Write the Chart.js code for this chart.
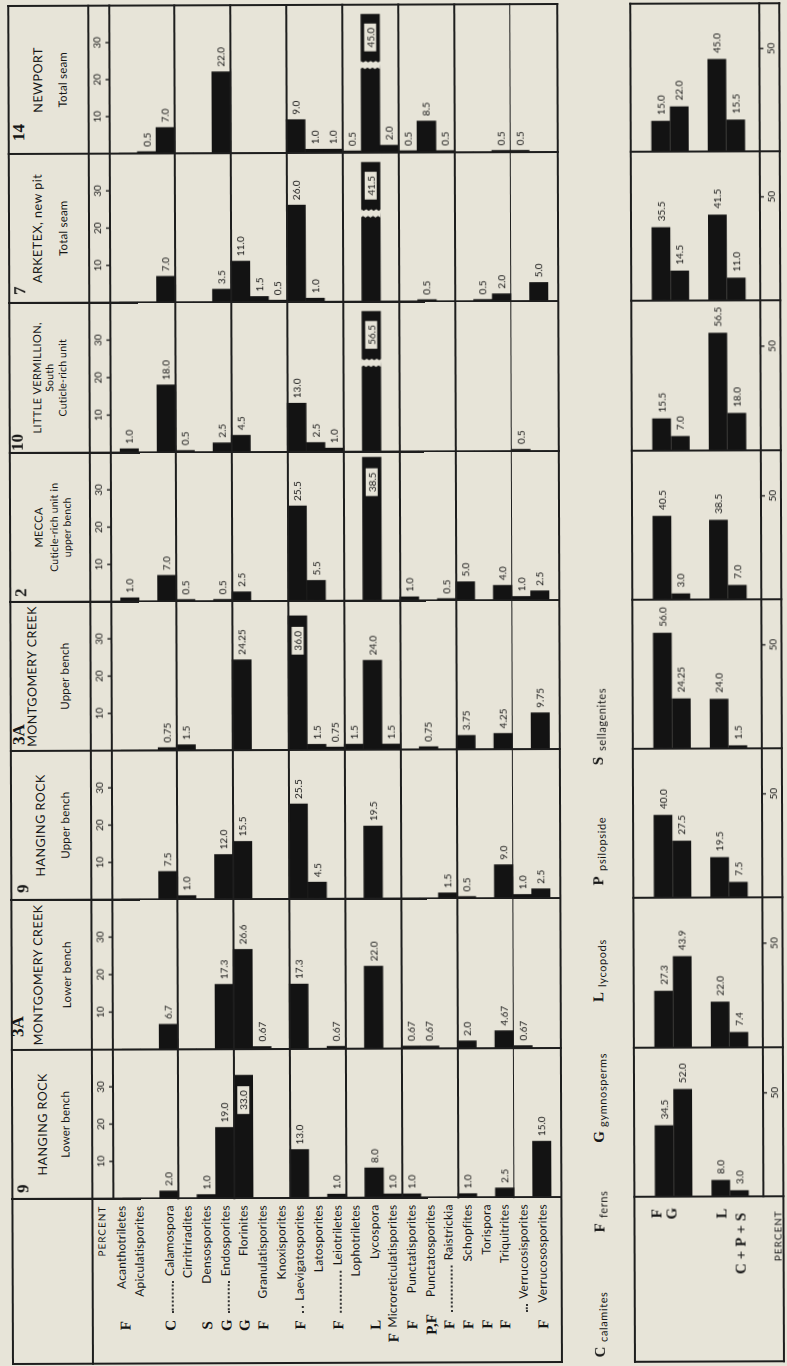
<!DOCTYPE html>
<html>
<head>
<meta charset="utf-8">
<title>Spore assemblages by seam</title>
<script src="https://cdn.jsdelivr.net/npm/chart.js@4.4.1/dist/chart.umd.min.js"></script>
<style>
  html, body { margin: 0; padding: 0; }
  body { width: 787px; height: 1366px; overflow: hidden; background: #e7e4d8; }
  #sheet { position: absolute; left: 0; top: 0; width: 1366px; height: 787px;
           transform-origin: 0 0; transform: translateY(1366px) rotate(-90.2deg);
           font-family: Lato, "Open Sans", sans-serif; color: #161616; }
  #sheet canvas { position: absolute; }
  .ln { position: absolute; background: #1e1e1e; }
  .tx { position: absolute; white-space: nowrap; line-height: 1; }
  .num { font-family: "Liberation Serif", serif; font-weight: bold; font-size: 17px; }
  .site { font-size: 12.5px; letter-spacing: 0.5px; }
  .note { font-size: 11.5px; letter-spacing: 0.2px; }
  .small .site, .site.small { font-size: 11px; letter-spacing: 0.4px; }
  .note.small { font-size: 10.5px; }
  .genus { font-size: 12px; letter-spacing: 0.2px; }
  .code { font-family: "Liberation Serif", serif; font-weight: bold; font-size: 15px; }
  .caps { font-size: 10px; letter-spacing: 1px; }
  .word { font-size: 11px; letter-spacing: 0.6px; }
  .lead { flex: 1; border-bottom: 2px dotted #333; margin-right: 5px; }
</style>
</head>
<body>
<div id="sheet"></div>
<script>
// genus rows, top to bottom
const genera = ["Acanthotriletes", "Apiculatisporites", "Calamospora", "Cirritriradites",
  "Densosporites", "Endosporites", "Florinites", "Granulatisporites", "Knoxisporites",
  "Laevigatosporites", "Latosporites", "Leiotriletes", "Lophotriletes", "Lycospora",
  "Microreticulatisporites", "Punctatisporites", "Punctatosporites", "Raistrickia",
  "Schopfites", "Torispora", "Triquitrites", "Verrucosisporites", "Verrucososporites"];
const groupCodes = ["F", "", "C", "", "S", "G", "G", "F", "", "F", "", "F", "", "L",
  "F", "F", "P,F", "F", "F", "F", "F", "", "F"];
const leaderRows = [2, 5, 9, 11, 17, 21];
const groupEnds = [2, 5, 8, 11, 14, 17, 20];

const siteNumbers = ["9", "3A", "9", "3A", "2", "10", "7", "14"];
const siteNames = ["HANGING ROCK", "MONTGOMERY CREEK", "HANGING ROCK", "MONTGOMERY CREEK",
  "MECCA", "LITTLE VERMILLION,", "ARKETEX, new pit", "NEWPORT"];
const siteNotes = [["Lower bench"], ["Lower bench"], ["Upper bench"], ["Upper bench"],
  ["Cuticle-rich unit in", "upper bench"], ["South", "Cuticle-rich unit"],
  ["Total seam"], ["Total seam"]];

// percent of each genus, one list per site (same order as genera)
const hangingRockLower = [0, 0, 2.0, 0, 1.0, 19.0, 33.0, 0, 0, 13.0, 0, 1.0, 0, 8.0, 1.0, 1.0, 0, 0, 1.0, 0, 2.5, 0, 15.0];
const montgomeryLower  = [0, 0, 6.7, 0, 0, 17.3, 26.6, 0.67, 0, 17.3, 0, 0.67, 0, 22.0, 0, 0.67, 0.67, 0, 2.0, 0, 4.67, 0.67, 0];
const hangingRockUpper = [0, 0, 7.5, 1.0, 0, 12.0, 15.5, 0, 0, 25.5, 4.5, 0, 0, 19.5, 0, 0, 0, 1.5, 0.5, 0, 9.0, 1.0, 2.5];
const montgomeryUpper  = [0, 0, 0.75, 1.5, 0, 0, 24.25, 0, 0, 36.0, 1.5, 0.75, 1.5, 24.0, 1.5, 0, 0.75, 0, 3.75, 0, 4.25, 0, 9.75];
const mecca            = [1.0, 0, 7.0, 0.5, 0, 0.5, 2.5, 0, 0, 25.5, 5.5, 0, 0, 38.5, 0, 1.0, 0, 0.5, 5.0, 0, 4.0, 1.0, 2.5];
const littleVermillion = [1.0, 0, 18.0, 0.5, 0, 2.5, 4.5, 0, 0, 13.0, 2.5, 1.0, 0, 56.5, 0, 0, 0, 0, 0, 0, 0, 0.5, 0];
const arketex          = [0, 0, 7.0, 0, 0, 3.5, 11.0, 1.5, 0.5, 26.0, 1.0, 0, 0, 41.5, 0, 0, 0.5, 0, 0, 0.5, 2.0, 0, 5.0];
const newport          = [0, 0.5, 7.0, 0, 0, 22.0, 0, 0, 0, 9.0, 1.0, 1.0, 0.5, 45.0, 2.0, 0.5, 8.5, 0.5, 0, 0, 0.5, 0.5, 0];

// plant group totals per site
const summaryF   = [34.5, 27.3, 40.0, 56.0, 40.5, 15.5, 35.5, 15.0];
const summaryG   = [52.0, 43.9, 27.5, 24.25, 3.0, 7.0, 14.5, 22.0];
const summaryL   = [8.0, 22.0, 19.5, 24.0, 38.5, 56.5, 41.5, 45.0];
const summaryCPS = [3.0, 7.4, 7.5, 1.5, 7.0, 18.0, 11.0, 15.5];

const mainTicks = [10, 20, 30];
const mainTickLabels = ["10", "20", "30"];
const summaryTicks = [50];
const summaryTickLabels = ["50"];

const mainSeries = [hangingRockLower, montgomeryLower, hangingRockUpper, montgomeryUpper,
  mecca, littleVermillion, arketex, newport];

const INK = "#131313", PAPER = "#e7e4d8", LINE = "#1e1e1e";
const STRIP_X = [167, 316, 466, 615, 764, 913, 1063, 1212, 1360];
const sheet = document.getElementById("sheet");

function fmt(v) { return Number.isInteger(v) ? v.toFixed(1) : String(v); }

// ticks, value labels, broken bars
const stripPlugin = {
  id: "strip",
  afterDatasetsDraw(chart, args, o) {
    const ctx = chart.ctx, xs = chart.scales.x, area = chart.chartArea;
    ctx.save();
    ctx.strokeStyle = LINE;
    ctx.lineWidth = 1.4;
    ctx.fillStyle = INK;
    ctx.font = "10px Lato";
    ctx.textAlign = "center";
    ctx.textBaseline = "middle";
    o.ticks.forEach((t, k) => {
      const px = xs.getPixelForValue(t);
      ctx.beginPath();
      ctx.moveTo(px, o.tickFrom);
      ctx.lineTo(px, o.tickTo);
      ctx.stroke();
      ctx.fillText(o.tickLabels[k], px, o.labelAt);
    });

    ctx.textAlign = "left";
    chart.data.datasets.forEach((ds, d) => {
      chart.getDatasetMeta(d).data.forEach((bar, i) => {
        const v = ds.data[i];
        if (!v) return;
        const txt = fmt(v);
        const w = ctx.measureText(txt).width;
        const h = bar.height;
        if (v > xs.max) {
          const g0 = xs.getPixelForValue(o.breakFrom);
          const g1 = xs.getPixelForValue(o.breakTo);
          const end = xs.getPixelForValue(o.brokenEnd);
          const top = bar.y - h / 2 - 1, bot = bar.y + h / 2 + 1;
          ctx.fillStyle = PAPER;
          ctx.fillRect(end, top, area.right - end + 2, bot - top);
          ctx.beginPath();
          ctx.moveTo(g0, top);
          let k = 0;
          for (let yy = top; yy <= bot; yy += 2.5, k++) ctx.lineTo(g0 + (k % 2 ? 1.5 : 0), yy);
          ctx.lineTo(g1, bot);
          k = 0;
          for (let yy = bot; yy >= top; yy -= 2.5, k++) ctx.lineTo(g1 - (k % 2 ? 1.5 : 0), yy);
          ctx.closePath();
          ctx.fill();
          const cx = (g1 + end) / 2;
          ctx.fillRect(cx - w / 2 - 4, bar.y - 6, w + 8, 12);
          ctx.fillStyle = INK;
          ctx.fillText(txt, cx - w / 2, bar.y + 0.5);
        } else if (v > o.boxFrom) {
          const right = bar.x - 11;
          ctx.fillStyle = PAPER;
          ctx.fillRect(right - w - 8, bar.y - 6, w + 8, 12);
          ctx.fillStyle = INK;
          ctx.fillText(txt, right - w - 4, bar.y + 0.5);
        } else {
          ctx.fillStyle = INK;
          ctx.fillText(txt, bar.x + o.gap, bar.y + 0.5);
        }
      });
    });
    ctx.restore();
  }
};

function makeCanvas(left, top, w, h) {
  const c = document.createElement("canvas");
  c.width = w; c.height = h;
  c.style.left = left + "px"; c.style.top = top + "px";
  c.style.width = w + "px"; c.style.height = h + "px";
  sheet.appendChild(c);
  return c;
}

function baseOptions(max, pad, stripOpts) {
  return {
    indexAxis: "y",
    responsive: false,
    animation: false,
    devicePixelRatio: 1,
    layout: { padding: pad },
    scales: {
      x: { display: false, min: 0, max: max },
      y: { display: false }
    },
    plugins: { legend: { display: false }, tooltip: { enabled: false }, strip: stripOpts }
  };
}

const MAIN_TOP = 93, MAIN_H = 469;
const SUM_TOP = 635, SUM_H = 149;
const charts = [];

mainSeries.forEach((vals, s) => {
  const w = STRIP_X[s + 1] - STRIP_X[s];
  const c = makeCanvas(STRIP_X[s], MAIN_TOP, w, MAIN_H);
  charts.push(new Chart(c, {
    type: "bar",
    data: {
      labels: genera,
      datasets: [{ data: vals, backgroundColor: INK, barPercentage: 1, categoryPercentage: 1 }]
    },
    options: baseOptions(40, { top: 30, bottom: 10, left: 0, right: 0 }, {
      ticks: mainTicks, tickLabels: mainTickLabels, tickFrom: 17, tickTo: 21, labelAt: 9,
      boxFrom: 30, gap: 5, breakFrom: 22.6, breakTo: 24.8, brokenEnd: 37.5
    }),
    plugins: [stripPlugin]
  }));

  const c2 = makeCanvas(STRIP_X[s], SUM_TOP, w, SUM_H);
  new Chart(c2, {
    type: "bar",
    data: {
      labels: ["F / G", "L / C+P+S"],
      datasets: [
        { data: [summaryF[s], summaryL[s]], backgroundColor: INK, barPercentage: 1, categoryPercentage: 0.66 },
        { data: [summaryG[s], summaryCPS[s]], backgroundColor: INK, barPercentage: 1, categoryPercentage: 0.66 }
      ]
    },
    options: baseOptions(72, { top: 11, bottom: 25, left: 0, right: 0 }, {
      ticks: summaryTicks, tickLabels: summaryTickLabels, tickFrom: 129, tickTo: 133, labelAt: 141,
      boxFrom: Infinity, gap: 6
    }),
    plugins: [stripPlugin]
  });
});

// table rules
function hline(x0, x1, y, t) {
  t = t || 2;
  const d = document.createElement("div");
  d.className = "ln";
  d.style.left = x0 - 1 + "px"; d.style.top = y - t / 2 + "px";
  d.style.width = x1 - x0 + 2 + "px"; d.style.height = t + "px";
  sheet.appendChild(d);
}
function vline(x, y0, y1, t) {
  t = t || 2;
  const d = document.createElement("div");
  d.className = "ln";
  d.style.left = x - t / 2 + "px"; d.style.top = y0 - 1 + "px";
  d.style.width = t + "px"; d.style.height = y1 - y0 + 2 + "px";
  sheet.appendChild(d);
}

const ys = charts[0].scales.y;
const rowY = i => MAIN_TOP + ys.getPixelForValue(i);

hline(2, 1360, 13);
hline(2, 1360, 93);
hline(167, 1360, 114);
groupEnds.forEach(i => hline(167, 1360, (rowY(i) + rowY(i + 1)) / 2, 1.6));
hline(2, 1360, 562);
vline(2, 13, 562);
STRIP_X.forEach(x => vline(x, 13, 562));

hline(2, 1360, 635);
hline(167, 1360, 764);
hline(2, 1360, 784);
vline(2, 635, 784);
STRIP_X.forEach(x => vline(x, 635, 784));

// text
function put(text, x, y, cls, align) {
  const el = document.createElement("div");
  el.className = "tx " + cls;
  el.textContent = text;
  el.style.left = x + "px";
  el.style.top = y + "px";
  const dx = align === "r" ? "-100%" : align === "l" ? "0" : "-50%";
  el.style.transform = "translate(" + dx + ", -50%)";
  sheet.appendChild(el);
  return el;
}

const headY = [[23, 44, 66], [19, 40, 68], [24, 43, 67], [21, 34.5, 67],
  [23, 41, 57, 70], [20, 40, 53, 66], [23, 42, 67], [23, 43, 67]];
const numDx = [6, 13, 7, 6, 5, 2, 8, 13];
const compactHead = [4, 5];
siteNames.forEach((name, s) => {
  const cx = (STRIP_X[s] + STRIP_X[s + 1]) / 2;
  const sm = compactHead.includes(s) ? " small" : "";
  put(siteNumbers[s], STRIP_X[s] + numDx[s], headY[s][0], "num", "l");
  put(name, cx, headY[s][1], "site" + sm, "c");
  siteNotes[s].forEach((n, k) => put(n, cx, headY[s][2 + k], "note" + sm, "c"));
});

put("PERCENT", 160, 102, "caps", "r");
// the first two names sit a little above their rows in the original
const labelShift = [-10, -11];
genera.forEach((g, i) => {
  const y = rowY(i) + (labelShift[i] || 0);
  if (leaderRows.includes(i)) {
    const row = document.createElement("div");
    row.className = "tx genus";
    row.style.left = "52px"; row.style.width = "108px";
    row.style.top = y + "px";
    row.style.display = "flex";
    row.style.alignItems = "baseline";
    row.style.transform = "translateY(-50%)";
    const lead = document.createElement("span");
    lead.className = "lead";
    const nm = document.createElement("span");
    nm.textContent = g;
    row.appendChild(lead); row.appendChild(nm);
    sheet.appendChild(row);
  } else {
    put(g, 160, y, "genus", "r");
  }
  if (groupCodes[i]) put(groupCodes[i], i === 14 ? 27 : 40, y + (i === 0 ? 4 : 1), "code", "c");
});

// summary row labels
put("F", 150, 657, "code", "c");
put("G", 150, 672, "code", "c");
put("L", 150, 722, "code", "c");
const cps = put("C+P+S", 122, 741, "code", "c");
cps.style.letterSpacing = "4px";
put("PERCENT", 153, 778, "caps", "r");

// key to plant groups
const keyLetters = ["C", "F", "G", "L", "P", "S"];
const keyWords = ["calamites", "ferns", "gymnosperms", "lycopods", "psilopside", "sellagenites"];
const keyX = [12, 136, 227, 367, 483, 603];
keyLetters.forEach((l, k) => {
  put(l, keyX[k], 600, "code", "c");
  put(keyWords[k], keyX[k] + 10, 603, "word", "l");
});
</script>
</body>
</html>
